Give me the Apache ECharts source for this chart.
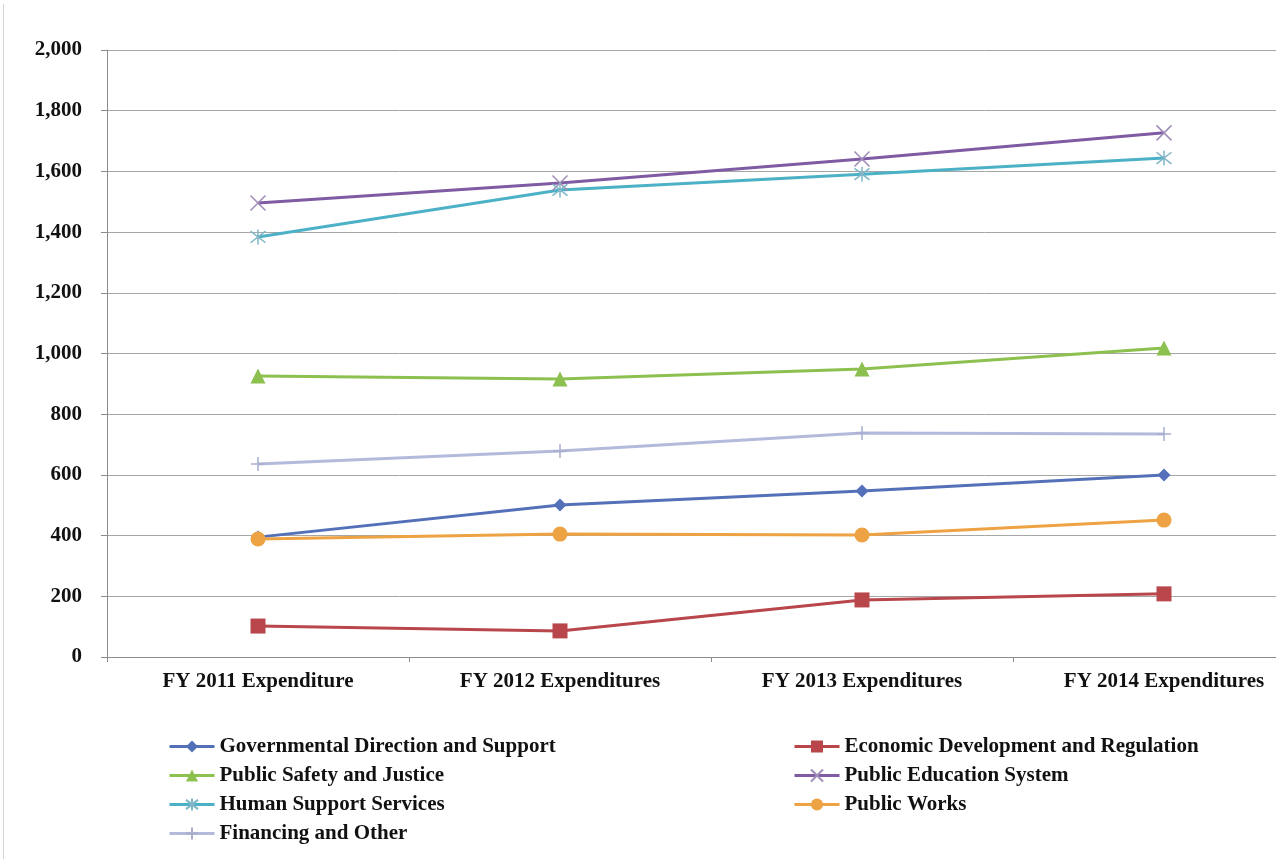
<!DOCTYPE html>
<html><head><meta charset="utf-8">
<script src="https://cdn.jsdelivr.net/npm/echarts@6/dist/echarts.min.js"></script>
<style>html,body{margin:0;padding:0;background:#fff}#c{width:1276px;height:859px}</style>
</head><body><div id="c"></div>
<script>
const categories = ['FY 2011 Expenditure','FY 2012 Expenditures','FY 2013 Expenditures','FY 2014 Expenditures'];
const gov = [395, 501, 547, 600];
const econ = [102, 86, 188, 208];
const safety = [926, 916, 949, 1018];
const education = [1496, 1562, 1641, 1727];
const human = [1384, 1539, 1591, 1644];
const works = [389, 405, 402, 451];
const financing = [636, 679, 738, 735];
const legendLeft = ['Governmental Direction and Support','Public Safety and Justice','Human Support Services','Financing and Other'];
const legendRight = ['Economic Development and Regulation','Public Education System','Public Works'];

const FONT = '"Liberation Serif", "DejaVu Serif", serif';
const X_PATH = 'path://M0,0L10,10M10,0L0,10';
const STAR_PATH = 'path://M0,0L10,10M10,0L0,10M5,-1.5L5,11.5';
const PLUS_PATH = 'path://M5,0L5,10M2,5L8,5';

function mk(name, data, color, symbol, size, strokeMarker, markerColor) {
  return {
    name, type: 'line', data, symbol, symbolSize: size,
    lineStyle: { color, width: 3 },
    itemStyle: strokeMarker
      ? { color: markerColor || color, borderColor: markerColor || color, borderWidth: 1.5 }
      : { color, borderColor: color, borderWidth: 0 },
    emphasis: { disabled: true },
    z: 3
  };
}

const legendBase = {
  orient: 'vertical', itemWidth: 45, itemHeight: 15, itemGap: 8,
  lineStyle: { width: 3 },
  textStyle: { color: '#111', fontFamily: FONT, fontWeight: 'bold', fontSize: 21 }
};

const chart = echarts.init(document.getElementById('c'));
chart.setOption({
  animation: false,
  backgroundColor: '#ffffff',
  grid: { left: 107, top: 50, height: 607, width: 1208, containLabel: false, outerBoundsMode: 'none' },
  xAxis: {
    type: 'category', data: categories, boundaryGap: true,
    axisLine: { lineStyle: { color: '#8c8c8c', width: 1 } },
    axisTick: { show: true, length: 5, lineStyle: { color: '#8c8c8c' } },
    axisLabel: { color: '#111', fontFamily: FONT, fontWeight: 'bold', fontSize: 21, margin: 14 }
  },
  yAxis: {
    type: 'value', min: 0, max: 2000, interval: 200,
    axisLine: { show: true, lineStyle: { color: '#8c8c8c', width: 1 } },
    axisTick: { show: true, length: 6, lineStyle: { color: '#8c8c8c' } },
    splitLine: { lineStyle: { color: '#a6a6a6', width: 1 } },
    axisLabel: {
      color: '#111', fontFamily: FONT, fontWeight: 'bold', fontSize: 21, margin: 25,
      formatter: v => v.toLocaleString('en-US')
    }
  },
  legend: [
    Object.assign({}, legendBase, { left: 163, top: 731, data: legendLeft }),
    Object.assign({}, legendBase, { left: 788, top: 731, data: legendRight })
  ],
  graphic: [
    { type: 'line', shape: { x1: 3.5, y1: 4, x2: 3.5, y2: 859 }, style: { stroke: '#d4d4d4', lineWidth: 1 } }
  ],
  series: [
    mk('Governmental Direction and Support', gov, '#5470b8', 'diamond', 13),
    mk('Economic Development and Regulation', econ, '#b8464b', 'rect', 15),
    mk('Public Safety and Justice', safety, '#8cc04f', 'triangle', 15),
    mk('Public Education System', education, '#7e5ba3', X_PATH, 15, true, '#a08cb8'),
    mk('Human Support Services', human, '#4cb1c6', STAR_PATH, 15, true, '#7fb6c8'),
    mk('Public Works', works, '#eda343', 'circle', 15),
    mk('Financing and Other', financing, '#b4badc', PLUS_PATH, 14, true, '#a8aed0')
  ]
});
</script></body></html>
